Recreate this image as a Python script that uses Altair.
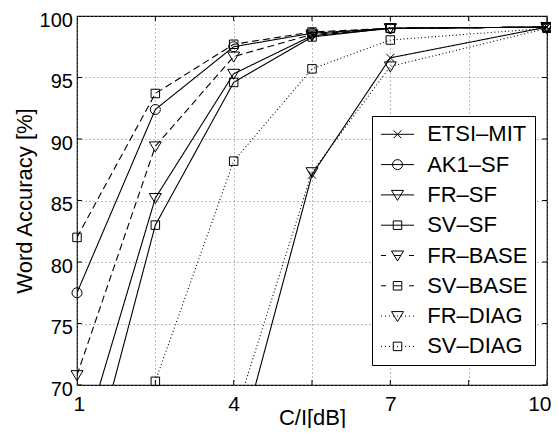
import altair as alt
import pandas as pd

# ---------------- data ----------------
CI = [1, 2.5, 4, 5.5, 7, 10]
SERIES = ["ETSI–MIT", "AK1–SF", "FR–SF", "SV–SF", "FR–BASE", "SV–BASE", "FR–DIAG", "SV–DIAG"]
ETSI_MIT = [None, None, 63.4, 87.1, 96.6, 99.1]
AK1_SF = [77.5, 92.4, 97.5, 98.6, 99.0, 99.1]
FR_SF = [63.8, 85.2, 95.3, 98.4, 99.0, 99.1]
SV_SF = [58.9, 83.0, 94.6, 98.3, 99.0, 99.1]
FR_BASE = [70.8, 89.4, 96.7, 98.5, 99.0, 99.1]
SV_BASE = [82.0, 93.7, 97.7, 98.7, 99.0, 99.1]
FR_DIAG = [None, None, 67.2, 87.3, 95.9, 99.0]
SV_DIAG = [None, 70.3, 88.2, 95.7, 98.05, 99.0]
VALUES = [ETSI_MIT, AK1_SF, FR_SF, SV_SF, FR_BASE, SV_BASE, FR_DIAG, SV_DIAG]

X_TICKS = [1, 2.5, 4, 5.5, 7, 8.5, 10]
X_LABELS = [1, 4, 7, 10]
Y_TICKS = [70, 75, 80, 85, 90, 95, 100]
X_DOMAIN = [1, 10]
Y_DOMAIN = [70, 100]

# ---------------- styles ----------------
LINESTYLE = ["solid", "solid", "solid", "solid", "dashed", "dashed", "dotted", "dotted"]
MARKER = ["x", "o", "v", "s", "v", "s", "v", "s"]
DASH = {"solid": [1, 0], "dashed": [7, 4], "dotted": [1, 2.5]}

LEG_D = 20.0                  # legend symbol box (px)
LEG_SIZE = LEG_D * LEG_D
LEG_UNIT = LEG_D / 2.0        # px per path unit in legend
L = 16.5 / LEG_UNIT           # half length of legend line
K = 5.0 / LEG_UNIT            # marker scale in legend


def marker_path(m, k):
    if m == "o":
        r = 1.0 * k
        return f"M{r:.3f},0A{r:.3f},{r:.3f} 0 1,1 {-r:.3f},0A{r:.3f},{r:.3f} 0 1,1 {r:.3f},0Z"
    if m == "v":
        return f"M{-1.2*k:.3f},{-0.9*k:.3f}L{1.2*k:.3f},{-0.9*k:.3f}L0,{1.1*k:.3f}Z"
    if m == "s":
        a = 0.85 * k
        return f"M{-a:.3f},{-a:.3f}L{a:.3f},{-a:.3f}L{a:.3f},{a:.3f}L{-a:.3f},{a:.3f}Z"
    a = 0.8 * k
    return f"M{-a:.3f},{-a:.3f}L{a:.3f},{a:.3f}M{a:.3f},{-a:.3f}L{-a:.3f},{a:.3f}"


def legend_line(style):
    if style == "solid":
        return f"M{-L:.3f},0L{L:.3f},0"
    if style == "dashed":
        d = 5.0 / LEG_UNIT
        c = 3.5 / LEG_UNIT
        return (f"M{-L:.3f},0L{-L + d:.3f},0M{-c:.3f},0L{c:.3f},0"
                f"M{L - d:.3f},0L{L:.3f},0")
    segs = []
    step = 4.0 / LEG_UNIT
    dot = 1.0 / LEG_UNIT
    x = -L
    while x < L:
        segs.append(f"M{x:.3f},0L{x + dot:.3f},0")
        x += step
    return "".join(segs)


MARKER_PATHS = [marker_path(m, 1.0) for m in MARKER]
LEGEND_PATHS = [legend_line(s) + marker_path(m, K) for s, m in zip(LINESTYLE, MARKER)]
DASHES = [DASH[s] for s in LINESTYLE]

rows = []
for name, vals in zip(SERIES, VALUES):
    for c, v in zip(CI, vals):
        if v is not None:
            rows.append({"series": name, "ci": c, "acc": v})
df = pd.DataFrame(rows)
df_pts = df[df["acc"] >= 70]

FONT = "Liberation Sans"

x_scale = alt.Scale(domain=X_DOMAIN, nice=False, zero=False)
y_scale = alt.Scale(domain=Y_DOMAIN, nice=False, zero=False)

x_axis = alt.Axis(
    values=X_TICKS,
    labelExpr="indexof(" + str(X_LABELS) + ", datum.value) >= 0 ? datum.label : ''",
    title="C/I[dB]",
    labelFontSize=21,
    labelBaseline="alphabetic",
    labelPadding=25,
    labelFlush=True,
    labelFlushOffset=4,
    titleFontSize=22,
    titleBaseline="alphabetic",
    titleY=39,
    grid=True,
)
y_axis = alt.Axis(
    values=Y_TICKS,
    title="Word Accuracy [%]",
    labelFontSize=20,
    labelBaseline="alphabetic",
    labelOffset=10.2,
    labelPadding=4.6,
    labelFlush=False,
    titleFontSize=22,
    titleAngle=-90,
    titleBaseline="alphabetic",
    titleAlign="center",
    titleX=-46,
    titleY=184.5,
    grid=True,
)

lines = alt.Chart(df).mark_line(clip=True, color="black", strokeWidth=1.1).encode(
    x=alt.X("ci:Q", scale=x_scale, axis=x_axis),
    y=alt.Y("acc:Q", scale=y_scale, axis=y_axis),
    detail="series:N",
    order="ci:Q",
    strokeDash=alt.StrokeDash("series:N", scale=alt.Scale(domain=SERIES, range=DASHES), legend=None),
)

points = alt.Chart(df_pts).mark_point(filled=False, color="black", size=100, strokeWidth=1, opacity=1).encode(
    x=alt.X("ci:Q", scale=x_scale),
    y=alt.Y("acc:Q", scale=y_scale),
    shape=alt.Shape("series:N", scale=alt.Scale(domain=SERIES, range=MARKER_PATHS), legend=None),
)

legend_layer = alt.Chart(df).transform_filter("false").mark_point(
    filled=False, color="black", size=LEG_SIZE, strokeWidth=1, opacity=1
).encode(
    x=alt.X("ci:Q", scale=x_scale),
    y=alt.Y("acc:Q", scale=y_scale),
    shape=alt.Shape(
        "series:N",
        scale=alt.Scale(domain=SERIES, range=LEGEND_PATHS),
        legend=alt.Legend(
            title=None,
            orient="none",
            legendX=295,
            legendY=100,
            strokeColor="black",
            fillColor="white",
            padding=7.3,
            cornerRadius=0,
            labelFont=FONT,
            labelFontSize=22,
            labelColor="black",
            labelOffset=18.7,
            symbolOffset=7.2,
            rowPadding=8.3,
            symbolSize=LEG_SIZE,
            symbolStrokeWidth=1,
            symbolStrokeColor="black",
            symbolFillColor="transparent",
            symbolOpacity=1,
        ),
    ),
)

xt = pd.DataFrame({"ci": X_TICKS})
yt = pd.DataFrame({"acc": Y_TICKS})
tick_style = dict(size=10, thickness=1, color="black", clip=True, opacity=1)
ticks_bottom = alt.Chart(xt).mark_tick(orient="vertical", **tick_style).encode(
    x=alt.X("ci:Q", scale=x_scale), y=alt.datum(Y_DOMAIN[0]))
ticks_top = alt.Chart(xt).mark_tick(orient="vertical", **tick_style).encode(
    x=alt.X("ci:Q", scale=x_scale), y=alt.datum(Y_DOMAIN[1]))
ticks_left = alt.Chart(yt).mark_tick(orient="horizontal", **tick_style).encode(
    y=alt.Y("acc:Q", scale=y_scale), x=alt.datum(X_DOMAIN[0]))
ticks_right = alt.Chart(yt).mark_tick(orient="horizontal", **tick_style).encode(
    y=alt.Y("acc:Q", scale=y_scale), x=alt.datum(X_DOMAIN[1]))

chart = (
    alt.layer(lines, ticks_bottom, ticks_top, ticks_left, ticks_right, points, legend_layer)
    .resolve_scale(shape="independent")
    .properties(
        width=470,
        height=369,
        autosize=alt.AutoSizeParams(type="none"),
        padding={"left": 69, "top": 8, "right": 4, "bottom": 43},
        background="white",
    )
    .configure_view(stroke="black", strokeWidth=1.2)
    .configure_axis(
        domain=False,
        ticks=False,
        labelFont=FONT,
        titleFont=FONT,
        labelColor="black",
        titleColor="black",
        titleFontWeight="normal",
        gridColor="#777777",
        gridDash=[1, 3],
        gridWidth=1,
        gridOpacity=1,
        labelOverlap=False,
    )
)

chart.save("out.html", embed_options={"renderer": "svg", "actions": False})
